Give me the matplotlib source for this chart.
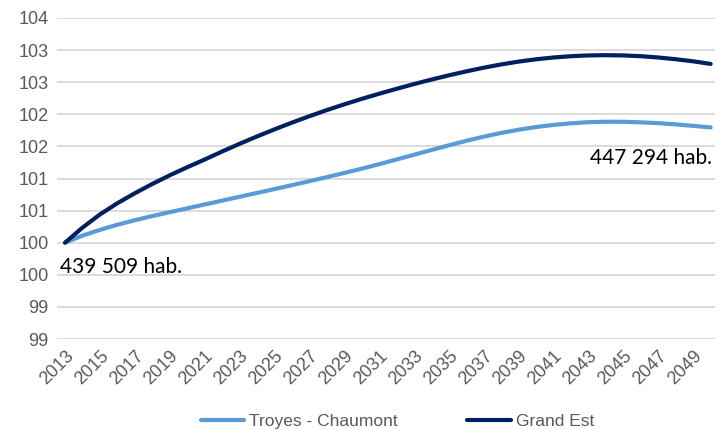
import matplotlib
matplotlib.use("Agg")
import matplotlib.pyplot as plt
from matplotlib.ticker import FixedLocator, FixedFormatter

# values (index, base 100 in 2013)
years = list(range(2013, 2051))
troyes = [100.000, 100.110, 100.200, 100.280, 100.350, 100.415, 100.475, 100.535, 100.595, 100.655,
          100.715, 100.775, 100.835, 100.896, 100.958, 101.021, 101.086, 101.153, 101.223, 101.296,
          101.370, 101.444, 101.517, 101.587, 101.652, 101.710, 101.760, 101.802, 101.835, 101.860,
          101.877, 101.884, 101.883, 101.875, 101.862, 101.843, 101.820, 101.795]
grand_est = [100.000, 100.235, 100.440, 100.615, 100.770, 100.915, 101.050, 101.175, 101.295, 101.420,
             101.540, 101.655, 101.765, 101.870, 101.970, 102.065, 102.155, 102.240, 102.320, 102.397,
             102.471, 102.541, 102.607, 102.669, 102.726, 102.777, 102.821, 102.857, 102.885, 102.905,
             102.917, 102.921, 102.917, 102.905, 102.885, 102.858, 102.825, 102.785]
y_ticks = [98.5, 99.0, 99.5, 100.0, 100.5, 101.0, 101.5, 102.0, 102.5, 103.0, 103.5]
y_labels = ["99", "99", "100", "100", "101", "101", "102", "102", "103", "103", "104"]
x_ticks = list(range(2013, 2050, 2))
ann_start = "439 509 hab."
ann_end = "447 294 hab."

GRAY = "#595959"
plt.rcParams["font.family"] = ["Liberation Sans", "DejaVu Sans"]

fig = plt.figure(figsize=(7.15, 4.30), dpi=100)
ax = fig.add_axes([57 / 715, 91 / 430, 658 / 715, 321 / 430])

ax.plot(years, troyes, color="#5B9BD5", lw=3.0, solid_capstyle="round", label="Troyes - Chaumont")
ax.plot(years, grand_est, color="#002060", lw=3.0, solid_capstyle="round", label="Grand Est")

ax.set_ylim(98.5, 103.5)
ax.set_xlim(2012.54, 2050.25)
ax.yaxis.set_major_locator(FixedLocator(y_ticks))
ax.yaxis.set_major_formatter(FixedFormatter(y_labels))
ax.set_xticks(x_ticks)
ax.set_xticklabels([str(y) for y in x_ticks], rotation=45, ha="right",
                   rotation_mode="anchor")
ax.tick_params(axis="both", length=0, labelsize=13, colors=GRAY)
ax.tick_params(axis="x", pad=6)
ax.tick_params(axis="y", pad=6)
ax.grid(axis="y", color="#D9D9D9", lw=1.3)
ax.set_axisbelow(True)
for s in ax.spines.values():
    s.set_visible(False)

ax.text(2012.71, 99.62, ann_start, fontsize=15, family=["Lato", "DejaVu Sans"],
        ha="left", va="center", color="black")
ax.text(2050.08, 101.32, ann_end, fontsize=15, family=["Lato", "DejaVu Sans"],
        ha="right", va="center", color="black")

fig.legend(loc="lower center", bbox_to_anchor=(0.556, -0.035), ncol=2, frameon=False,
           fontsize=12.5, handlelength=2.5, columnspacing=4.0, handletextpad=0.3,
           labelcolor=GRAY)

fig.savefig("out.png", dpi=100)
